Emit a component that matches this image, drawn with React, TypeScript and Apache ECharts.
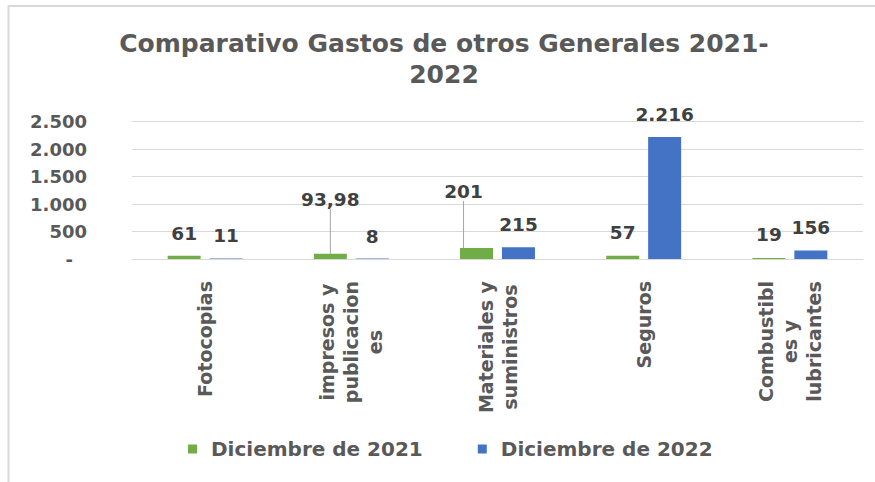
import React, { useEffect, useRef } from 'react';
import * as echarts from 'echarts';

const titleText = 'Comparativo Gastos de otros Generales 2021-\n2022';
const categories = [
  'Fotocopias',
  'impresos y\npublicacion\nes',
  'Materiales y\nsuministros',
  'Seguros',
  'Combustibl\nes y\nlubricantes',
];
const seriesNames = ['Diciembre de 2021', 'Diciembre de 2022'];
const values2021 = [61, 93.98, 201, 57, 19];
const values2022 = [11, 8, 215, 2216, 156];
const yMin = 0;
const yMax = 2500;
const yStep = 500;

const FONT = 'DejaVu Sans';
const AXIS_GRAY = '#595959';
const LABEL_DARK = '#404040';
const GRID_GRAY = '#d9d9d9';
const GREEN = '#70ad47';
const BLUE = '#4472c4';

function fmt(v: number): string {
  if (!Number.isInteger(v)) return v.toFixed(2).replace('.', ',');
  return String(v).replace(/\B(?=(\d{3})+(?!\d))/g, '.');
}

// manual label moves (like Excel's dragged labels) per series / data index
const moveDy = [
  [0, -32, -34, -1, -1],
  [0, 0, 0, 0, 0],
];
const moveDx = [
  [0, 0, -13, 0, 0],
  [0, 0, 0, 0, 0],
];
const withLeader = [
  [false, true, true, false, false],
  [false, false, false, false, false],
];

export default function App() {
  const ref = useRef<HTMLDivElement>(null);
  useEffect(() => {
    if (!ref.current) return;
    const chart = echarts.init(ref.current, undefined, { renderer: 'svg' });
    const mkData = (vals: number[], si: number) =>
      vals.map((v, i) =>
        withLeader[si][i]
          ? { value: v, labelLine: { show: true, lineStyle: { color: '#a6a6a6', width: 1 } } }
          : { value: v }
      );
    const labelCfg = {
      show: true,
      position: 'top',
      distance: 13,
      fontFamily: FONT,
      fontWeight: 'bold',
      fontSize: 18.5,
      color: LABEL_DARK,
      formatter: (p: any) => fmt(p.value),
    };
    const option: any = {
      animation: false,
      backgroundColor: '#ffffff',
      textStyle: { fontFamily: FONT },
      title: {
        text: titleText,
        left: 444,
        top: 28,
        textAlign: 'center',
        padding: 0,
        textStyle: {
          fontFamily: FONT,
          fontWeight: 'bold',
          fontSize: 25,
          lineHeight: 31,
          color: AXIS_GRAY,
        },
      },
      graphic: [
        {
          type: 'line',
          shape: { x1: 8, y1: 6, x2: 875, y2: 6 },
          style: { stroke: GRID_GRAY, lineWidth: 2 },
          silent: true,
        },
        {
          type: 'line',
          shape: { x1: 8.5, y1: 5, x2: 8.5, y2: 482 },
          style: { stroke: GRID_GRAY, lineWidth: 2 },
          silent: true,
        },
      ],
      legend: {
        data: seriesNames,
        left: 183,
        top: 434,
        icon: 'rect',
        itemWidth: 9,
        itemHeight: 9,
        itemGap: 55,
        textStyle: {
          fontFamily: FONT,
          fontWeight: 'bold',
          fontSize: 20,
          color: AXIS_GRAY,
          padding: [0, 0, 0, 9],
        },
      },
      grid: { left: 132, right: 12, top: 121.5, bottom: 223, containLabel: false },
      xAxis: {
        type: 'category',
        data: categories,
        axisLine: { show: true, lineStyle: { color: GRID_GRAY, width: 1 } },
        axisTick: { show: false },
        axisLabel: {
          interval: 0,
          rotate: 90,
          margin: 22,
          formatter: (v: string) => v.split('\n').map((l) => `{c|${l}}`).join('\n'),
          rich: {
            c: {
              align: 'center',
              fontFamily: FONT,
              fontWeight: 'bold',
              fontSize: 19,
              lineHeight: 24,
              color: AXIS_GRAY,
            },
          },
        },
      },
      yAxis: {
        type: 'value',
        min: yMin,
        max: yMax,
        interval: yStep,
        axisLine: { show: false },
        axisTick: { show: false },
        splitLine: { lineStyle: { color: GRID_GRAY, width: 1 } },
        axisLabel: {
          margin: 45,
          fontFamily: FONT,
          fontWeight: 'bold',
          fontSize: 18,
          color: AXIS_GRAY,
          formatter: (v: number) => (v === 0 ? '{d|-}' : fmt(v)),
          rich: {
            d: {
              fontFamily: FONT,
              fontWeight: 'bold',
              fontSize: 18,
              color: AXIS_GRAY,
              padding: [0, 14, 0, 0],
            },
          },
        },
      },
      series: [
        {
          name: seriesNames[0],
          type: 'bar',
          data: mkData(values2021, 0),
          barWidth: 33,
          barGap: '27%',
          itemStyle: { color: GREEN },
          label: labelCfg,
          labelLine: { show: false },
          labelLayout: (p: any) => ({ dx: moveDx[0][p.dataIndex], dy: moveDy[0][p.dataIndex] }),
        },
        {
          name: seriesNames[1],
          type: 'bar',
          data: mkData(values2022, 1),
          barWidth: 33,
          barGap: '27%',
          itemStyle: { color: BLUE },
          label: labelCfg,
          labelLine: { show: false },
          labelLayout: (p: any) => ({ dx: moveDx[1][p.dataIndex], dy: moveDy[1][p.dataIndex] }),
        },
      ],
    };
    chart.setOption(option);
    return () => chart.dispose();
  }, []);
  return (
    <div
      ref={ref}
      style={{ position: 'fixed', left: 0, top: 0, width: 875, height: 482 }}
    />
  );
}
